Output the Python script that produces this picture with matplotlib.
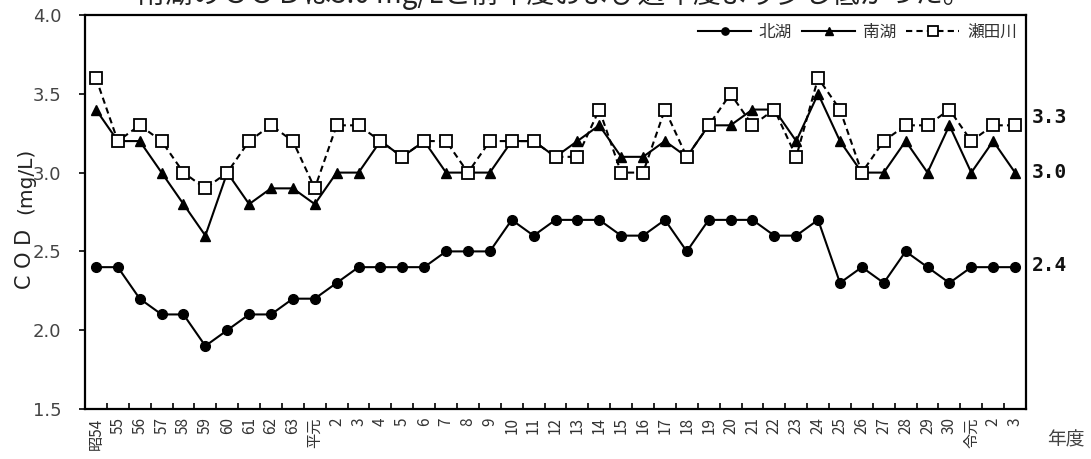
import matplotlib
matplotlib.use("Agg")
import matplotlib.pyplot as plt
from matplotlib.ticker import FixedLocator, NullFormatter

plt.rcParams['font.family'] = ['Noto Sans CJK JP', 'DejaVu Sans']

years = ["昭54", "55", "56", "57", "58", "59", "60", "61", "62", "63",
         "平元", "2", "3", "4", "5", "6", "7", "8", "9", "10",
         "11", "12", "13", "14", "15", "16", "17", "18", "19", "20",
         "21", "22", "23", "24", "25", "26", "27", "28", "29", "30",
         "令元", "2", "3"]

kitako = [2.4, 2.4, 2.2, 2.1, 2.1, 1.9, 2.0, 2.1, 2.1, 2.2,
          2.2, 2.3, 2.4, 2.4, 2.4, 2.4, 2.5, 2.5, 2.5, 2.7,
          2.6, 2.7, 2.7, 2.7, 2.6, 2.6, 2.7, 2.5, 2.7, 2.7,
          2.7, 2.6, 2.6, 2.7, 2.3, 2.4, 2.3, 2.5, 2.4, 2.3,
          2.4, 2.4, 2.4]

nanko = [3.4, 3.2, 3.2, 3.0, 2.8, 2.6, 3.0, 2.8, 2.9, 2.9,
         2.8, 3.0, 3.0, 3.2, 3.1, 3.2, 3.0, 3.0, 3.0, 3.2,
         3.2, 3.1, 3.2, 3.3, 3.1, 3.1, 3.2, 3.1, 3.3, 3.3,
         3.4, 3.4, 3.2, 3.5, 3.2, 3.0, 3.0, 3.2, 3.0, 3.3,
         3.0, 3.2, 3.0]

setagawa = [3.6, 3.2, 3.3, 3.2, 3.0, 2.9, 3.0, 3.2, 3.3, 3.2,
            2.9, 3.3, 3.3, 3.2, 3.1, 3.2, 3.2, 3.0, 3.2, 3.2,
            3.2, 3.1, 3.1, 3.4, 3.0, 3.0, 3.4, 3.1, 3.3, 3.5,
            3.3, 3.4, 3.1, 3.6, 3.4, 3.0, 3.2, 3.3, 3.3, 3.4,
            3.2, 3.3, 3.3]

series_names = ["北湖", "南湖", "瀬田川"]
end_labels = ["3.3", "3.0", "2.4"]
title_text = "南湖のＣＯＤは3.0 mg/Lと前年度および過年度より少し低かった。"

W, H = 1091, 459
fig = plt.figure(figsize=(W / 100, H / 100), dpi=100)
ax = fig.add_axes([85 / W, 1 - 409 / H, (1026 - 85) / W, (409 - 15) / H])

n = len(years)
x = [i + 0.5 for i in range(n)]

ax.plot(x, kitako, color='black', lw=1.5, marker='o', markersize=7,
        label=series_names[0], zorder=3)
ax.plot(x, nanko, color='black', lw=1.5, marker='^', markersize=7.5,
        label=series_names[1], zorder=4)
ax.plot(x, setagawa, color='black', lw=1.5, ls=(0, (3, 2)), marker='s',
        markersize=9, markerfacecolor='white', markeredgecolor='black',
        markeredgewidth=1.3, label=series_names[2], zorder=5)

ax.set_xlim(0, n)
ax.set_ylim(1.5, 4.0)

# x ticks: marks at category boundaries (inward), labels at centres
ax.xaxis.set_major_locator(FixedLocator(list(range(1, n))))
ax.xaxis.set_major_formatter(NullFormatter())
ax.xaxis.set_minor_locator(FixedLocator(x))
ax.set_xticklabels(years, minor=True, rotation=90, fontsize=11, color='#333333',
                   va='top', ha='center')
ax.tick_params(axis='x', which='major', direction='in', length=4, width=1.2,
               color='black')
ax.tick_params(axis='x', which='minor', length=0, pad=6)

ax.set_yticks([1.5, 2.0, 2.5, 3.0, 3.5, 4.0])
ax.set_yticklabels(["1.5", "2.0", "2.5", "3.0", "3.5", "4.0"],
                   fontsize=13, color='#444444', family='DejaVu Sans')
ax.tick_params(axis='y', direction='out', length=4, width=1.2, pad=13)

for s in ax.spines.values():
    s.set_linewidth(1.6)
    s.set_color('black')

# y-axis label: spaced COD plus unit
fig.text(25 / W, 1 - 259 / H, "C O D", fontsize=15, color='#222222',
         family='DejaVu Sans', rotation=90, ha='center', va='center')
fig.text(26 / W, 1 - 181 / H, "(mg/L)", fontsize=14.5, color='#222222',
         family='DejaVu Sans', rotation=90, ha='center', va='center')

leg = ax.legend(loc='upper right', ncol=3, frameon=False, fontsize=12,
                handlelength=3.2, handletextpad=0.45, columnspacing=0.6,
                borderaxespad=0.15, bbox_to_anchor=(1.0, 1.0), markerscale=0.75)
for t in leg.get_texts():
    t.set_color('#333333')

# end labels (right of the axes)
last_vals = [setagawa[-1] + 0.05, nanko[-1], kitako[-1] + 0.01]
for lab, v in zip(end_labels, last_vals):
    ax.text(1.006, v, lab, transform=ax.get_yaxis_transform(),
            fontsize=14, fontweight='bold', family='DejaVu Sans Mono',
            va='center', ha='left', color='#111111')

fig.text(1085 / W, 1 - 440 / H, "年度", fontsize=13.5, color='#444444',
         ha='right', va='center')

fig.text(137 / W, 1 - 3 / H, title_text, fontsize=20, color='#222222',
         ha='left', va='baseline')

fig.savefig("out.png", dpi=100)
